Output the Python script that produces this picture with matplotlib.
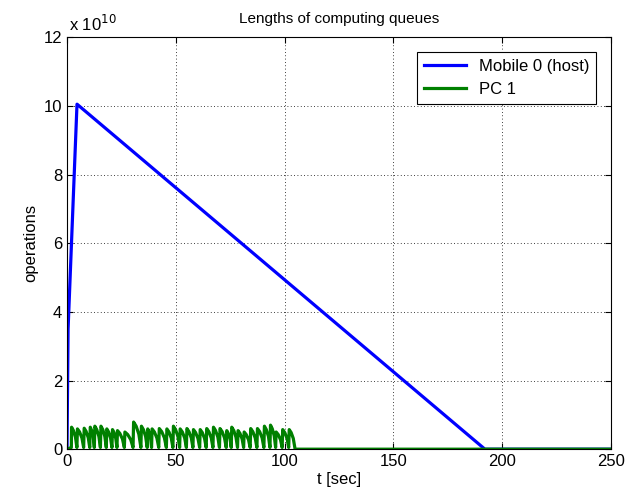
import numpy as np
import matplotlib.pyplot as plt
from matplotlib.ticker import FuncFormatter

plt.rcParams['font.family'] = ['Liberation Sans', 'DejaVu Sans']

# Mobile 0 (host) queue: break points
mobile_t = [0, 0.5, 4.6, 192, 250]
mobile_q = [0, 3.5e10, 10.05e10, 0, 0]

# PC 1 queue: tooth peak times (sec) and heights (x 1e10)
pc_peak_t = [2.0, 4.7, 7.8, 10.6, 12.7, 15.5, 18.2, 20.8, 23.1, 26.5,
             30.5, 34.1, 37.0, 39.0, 42.3, 45.8, 48.8, 51.9, 55.0, 58.0,
             61.1, 64.1, 67.2, 70.2, 73.3, 75.6, 78.5, 81.3, 84.3, 87.4,
             90.6, 93.4, 96.0, 99.0, 102.0]
pc_peak_h = [0.64, 0.59, 0.61, 0.64, 0.67, 0.67, 0.59, 0.57, 0.54, 0.50,
             0.79, 0.67, 0.59, 0.59, 0.60, 0.59, 0.67, 0.59, 0.60, 0.57,
             0.57, 0.60, 0.64, 0.60, 0.54, 0.64, 0.54, 0.50, 0.60, 0.60,
             0.67, 0.70, 0.50, 0.57, 0.57]
pc_low = 0.05
pc_end = 104.8

# build the sawtooth path from the peaks (fast rise, stepped decay)
pc_t, pc_q = [0, pc_peak_t[0]], [0, pc_low]
for i, (t, h) in enumerate(zip(pc_peak_t, pc_peak_h)):
    nxt = pc_peak_t[i + 1] if i + 1 < len(pc_peak_t) else pc_end
    span = nxt - t
    pc_t += [t + 0.1, t + 0.35 * span, t + 0.7 * span, nxt - 0.15]
    pc_q += [h, h * 0.85, h * 0.55, pc_low]
pc_t += [pc_end, 250]
pc_q += [0, 0]
pc_q = np.array(pc_q) * 1e10

fig = plt.figure(figsize=(6.32, 5.03), dpi=100)
ax = fig.add_axes([0.106, 0.107, 0.861, 0.819])

ax.plot(mobile_t, mobile_q, color='#0000ff', lw=2.3, label='Mobile 0 (host)')
ax.plot(pc_t, pc_q, color='#008000', lw=2.3, label='PC 1')

ax.set_xlim(0, 250)
ax.set_ylim(0, 12e10)
ax.set_xticks(np.arange(0, 251, 50))
ax.set_yticks(np.arange(0, 12.1e10, 2e10))
ax.yaxis.set_major_formatter(FuncFormatter(lambda v, p: f'{v / 1e10:g}'))
ax.grid(True, color='black', linestyle=(0, (1, 3)), linewidth=0.6)
ax.tick_params(direction='in', labelsize=12, length=4, top=True, right=True)
ax.text(0.003, 1.008, r'x 10$^{10}$', transform=ax.transAxes, fontsize=12,
        ha='left', va='bottom')

ax.set_title('Lengths of computing queues', fontsize=11, pad=10)
ax.set_xlabel('t [sec]', fontsize=12, labelpad=2)
ax.set_ylabel('operations', fontsize=12, labelpad=4)

leg = ax.legend(loc='upper right', fontsize=12, fancybox=False, framealpha=1,
                edgecolor='black', borderaxespad=0.9, handlelength=2.5)
leg.get_frame().set_linewidth(0.8)

fig.savefig('out.png', dpi=100)
